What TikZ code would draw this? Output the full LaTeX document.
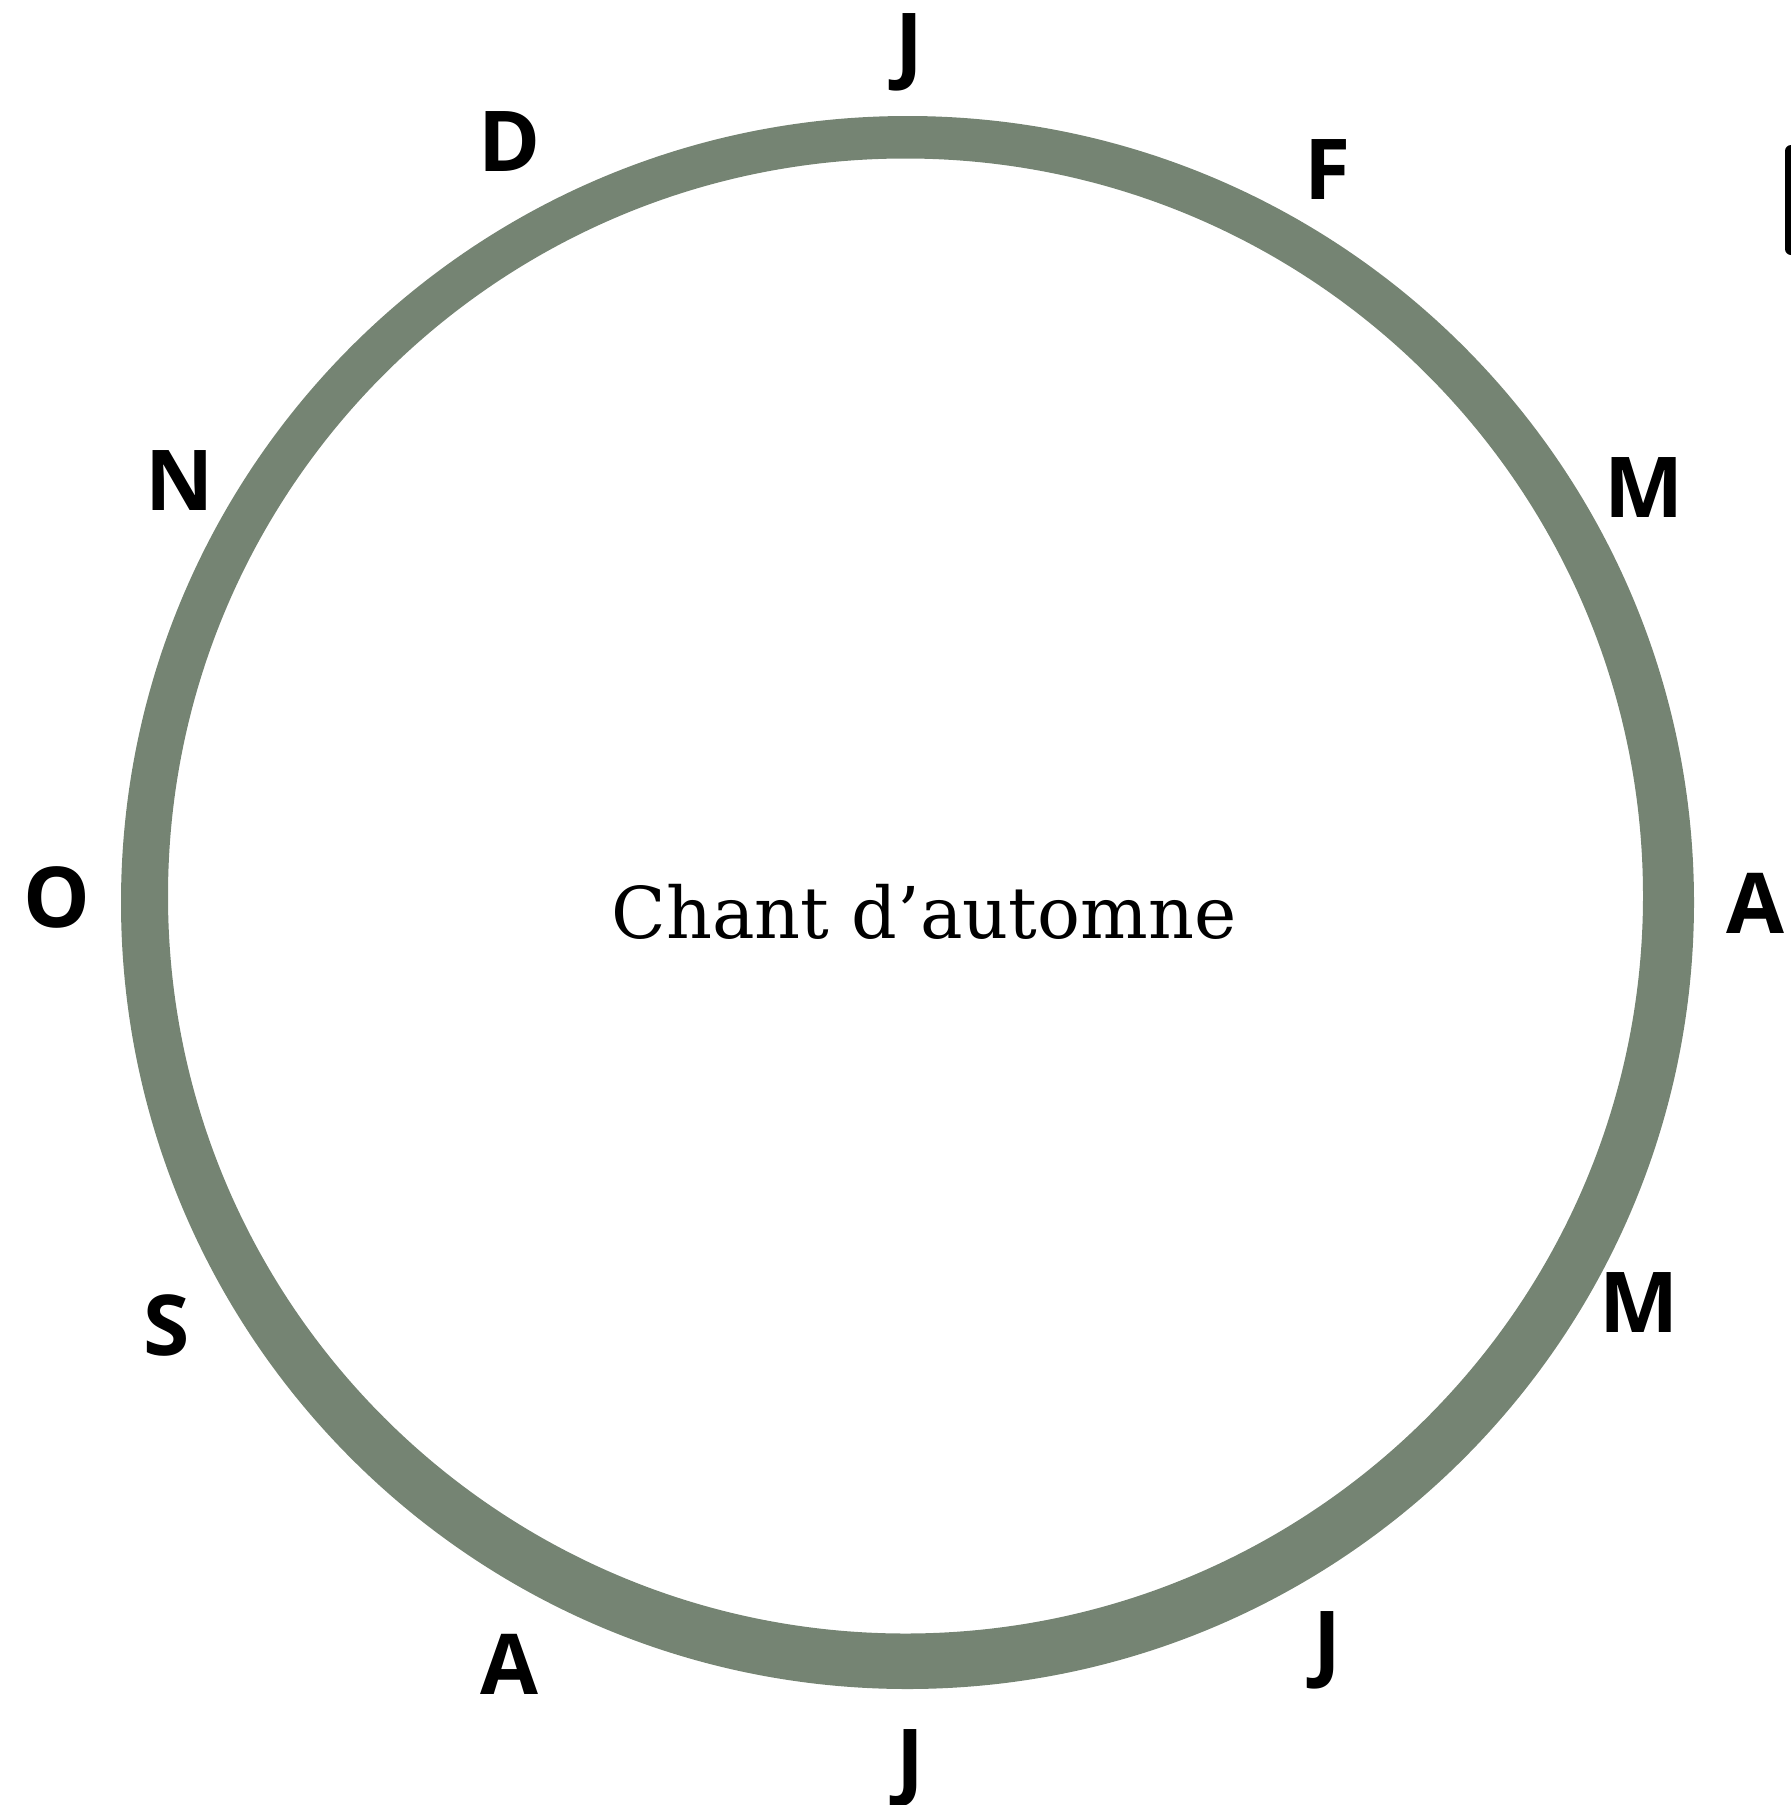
\documentclass[tikz,border=0pt]{standalone}
\usepackage{fontspec}
\newfontfamily\monthfont{Open Sans}[UprightFont=* Bold]
\newfontfamily\titlefont{DejaVu Serif}
\definecolor{ringgreen}{RGB}{117,132,115}
\tikzset{
  month/.style={anchor=base, inner sep=0pt, outer sep=0pt, font=\monthfont\fontsize{42pt}{42pt}\selectfont, text=black},
  title/.style={anchor=base, inner sep=0pt, font=\titlefont\fontsize{35.7pt}{36pt}\selectfont, text=black}
}
\begin{document}
\begin{tikzpicture}[x=0.5pt,y=-0.5pt]
\useasboundingbox (0,0) rectangle (1791,1805);
\clip (0,0) rectangle (1791,1805);
% ring
\fill[ringgreen, even odd rule] (907.5,902.5) circle[radius=393.25pt] (905.5,896) circle[radius=368.75pt];
% partial element at right edge
\fill[black, rounded corners=3pt] (1785,145) rectangle (1810,255);
% centre title
\node[title] (title) at (924,938) {Chant d’automne};
% months
\node[month] (jan) at (909,73) {J};
\node[month] (feb) at (1328,199) {F};
\node[month] (mar) at (1644,517) {M};
\node[month] (apr) at (1755,933) {A};
\node[month] (may) at (1639,1332) {M};
\node[month] (jun) at (1327,1671) {J};
\node[month] (jul) at (910,1789) {J};
\node[month] (aug) at (509,1694) {A};
\node[month] (sep) at (167,1355) {S};
\node[month] (oct) at (56.5,927) {O};
\node[month] (nov) at (180,510) {N};
\node[month] (dec) at (510,171) {D};
\end{tikzpicture}
\end{document}
